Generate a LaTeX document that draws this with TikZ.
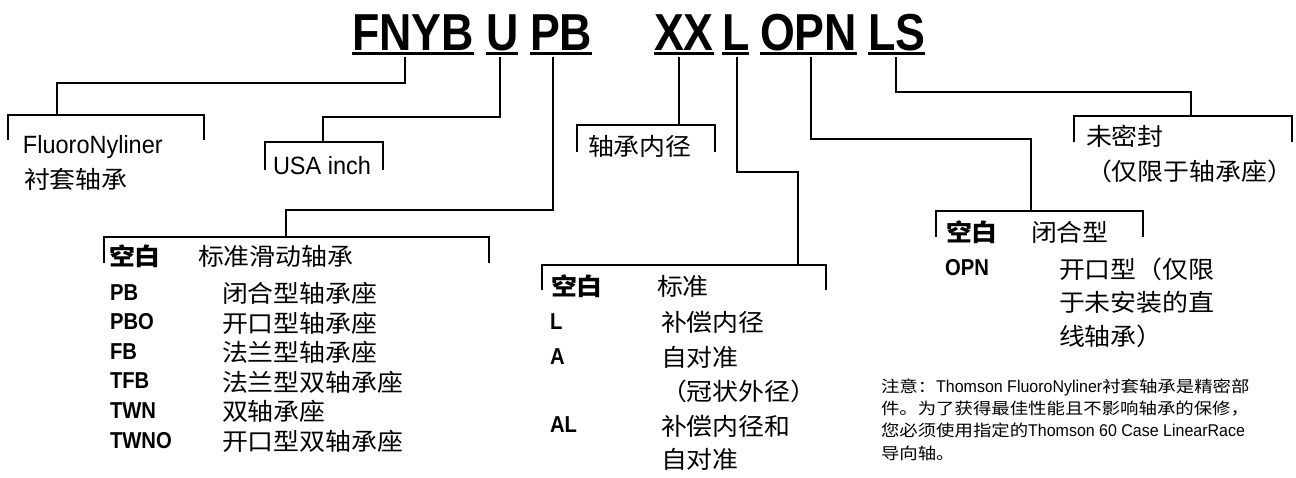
\documentclass[tikz,border=0pt]{standalone}
\usepackage{fontspec}
\setmainfont{Liberation Sans}[FakeStretch=0.94]
\newfontfamily\titlef{Liberation Sans}[FakeStretch=0.86]
\newfontfamily\codef{Liberation Sans}[FakeStretch=0.88]
\newfontfamily\cjk{Noto Sans CJK SC}[FakeStretch=1.08]
\newfontfamily\cjks{Noto Sans CJK SC}[FakeStretch=1.15]
\newcommand\notezh[1]{{\cjks\fontsize{16}{16}\selectfont #1}}
\newcommand\zbracket[4]{\draw[conn] (#1,#4) |- (#2,#3) -- (#2,#4);}
\begin{document}
\begin{tikzpicture}[x=1pt,y=-1pt,
  conn/.style={line width=2.7pt, line join=miter, line cap=butt},
  uline/.style={line width=3pt},
  lbl/.style={anchor=base west, inner sep=0pt, outer sep=0pt},
  ttl/.style={lbl, font=\titlef\bfseries\fontsize{52}{52}\selectfont},
  big/.style={lbl, font=\fontsize{25}{25}\selectfont},
  zh/.style={lbl, font=\cjk\fontsize{24}{24}\selectfont},
  zhb/.style={lbl, font=\cjk\bfseries\fontsize{24}{24}\selectfont},
  code/.style={lbl, font=\codef\bfseries\fontsize{23}{23}\selectfont},
  note/.style={lbl, font=\fontsize{17}{17}\selectfont}]
\useasboundingbox[fill=white] (0,0) rectangle (1296,477);
% ---- title ----
\node[ttl] (tFNYB) at (352,50) {FNYB};
\node[ttl] (tU) at (486,50) {U};
\node[ttl] (tPB) at (530,50) {PB};
\node[ttl] (tXX) at (654,50) {XX};
\node[ttl] (tL) at (722,50) {L};
\node[ttl] (tOPN) at (760,50) {OPN};
\node[ttl] (tLS) at (868,50) {LS};
\foreach \w in {tFNYB,tU,tPB,tXX,tL,tOPN,tLS}
  \draw[uline] ([yshift=-3pt]\w.base west) -- ([yshift=-3pt]\w.base east);
% ---- connector start points and bracket tops ----
\coordinate (s1) at (405,57);  \coordinate (b1) at (57,115);
\coordinate (s2) at (500,57);  \coordinate (b2) at (323,142);
\coordinate (s3) at (553,57);  \coordinate (b3) at (286,237);
\coordinate (s4) at (679,57);  \coordinate (b4) at (679,125);
\coordinate (s5) at (737,57);  \coordinate (b5) at (798,265);
\coordinate (s6) at (811,57);  \coordinate (b6) at (1031,211);
\coordinate (s7) at (896,57);  \coordinate (b7) at (1191,116);
\draw[conn] (s1) -- (s1 |- 0,83) -| (b1);
\draw[conn] (s2) -- (s2 |- 0,117) -| (b2);
\draw[conn] (s3) -- (s3 |- 0,210) -| (b3);
\draw[conn] (s4) -- (b4);
\draw[conn] (s5) -- (s5 |- 0,172) -| (b5);
\draw[conn] (s6) -- (s6 |- 0,139) -| (b6);
\draw[conn] (s7) -- (s7 |- 0,92) -| (b7);
% ---- brackets ----
\zbracket{8}{204}{115}{140}
\zbracket{265}{383}{142}{170}
\zbracket{104}{489}{237}{263}
\zbracket{577}{715}{125}{152}
\zbracket{542}{826}{265}{290}
\zbracket{936}{1143}{211}{237}
\zbracket{1074}{1292}{116}{142}
% ---- top labels ----
\node[big] (fn) at (23,153) {FluoroNyliner};
\node[zh] (fnzh) at (24,188.5) {衬套轴承};
\node[big] (usa) at (273,174) {USA inch};
\node[zh] (bore) at (588,155.5) {轴承内径};
\node[zh] (ls1) at (1086,145.5) {未密封};
\node[zh] (ls2) at (1086,180.5) {（仅限于轴承座）};
% ---- PB list ----
\node[zhb] (pb0c) at (109,265.5) {空白};
\node[zh]  (pb0d) at (198,265.5) {标准滑动轴承};
\node[code] (pb1c) at (110,300) {PB};
\node[zh]   (pb1d) at (222,302.5) {闭合型轴承座};
\node[code] (pb2c) at (110,329.5) {PBO};
\node[zh]   (pb2d) at (222,332) {开口型轴承座};
\node[code] (pb3c) at (110,359) {FB};
\node[zh]   (pb3d) at (222,361.5) {法兰型轴承座};
\node[code] (pb4c) at (110,388.5) {TFB};
\node[zh]   (pb4d) at (222,391) {法兰型双轴承座};
\node[code] (pb5c) at (110,418) {TWN};
\node[zh]   (pb5d) at (222,420.5) {双轴承座};
\node[code] (pb6c) at (110,448) {TWNO};
\node[zh]   (pb6d) at (222,450.5) {开口型双轴承座};
% ---- L list ----
\node[zhb] (l0c) at (551,295.5) {空白};
\node[zh]  (l0d) at (657,295.5) {标准};
\node[code] (l1c) at (550,329) {L};
\node[zh]   (l1d) at (661,331.5) {补偿内径};
\node[code] (l2c) at (550,364) {A};
\node[zh]   (l2d) at (661,366.5) {自对准};
\node[zh]   (l2e) at (661,400.5) {（冠状外径）};
\node[code] (l3c) at (550,432) {AL};
\node[zh]   (l3d) at (661,435) {补偿内径和};
\node[zh]   (l3e) at (661,468.5) {自对准};
% ---- OPN list ----
\node[zhb] (o0c) at (946,241.5) {空白};
\node[zh]  (o0d) at (1031,241.5) {闭合型};
\node[code] (o1c) at (945,275) {OPN};
\node[zh]   (o1d) at (1059,278.5) {开口型（仅限};
\node[zh]   (o1e) at (1059,311.5) {于未安装的直};
\node[zh]   (o1f) at (1059,345.5) {线轴承）};
% ---- note ----
\node[note] (n1) at (881,392) {\notezh{注意：}Thomson FluoroNyliner\notezh{衬套轴承是精密部}};
\node[note] (n2) at (881,414) {\notezh{件。为了获得最佳性能且不影响轴承的保修，}};
\node[note] (n3) at (881,436) {\notezh{您必须使用指定的}Thomson 60 Case LinearRace};
\node[note] (n4) at (881,459) {\notezh{导向轴。}};
\end{tikzpicture}
\end{document}
